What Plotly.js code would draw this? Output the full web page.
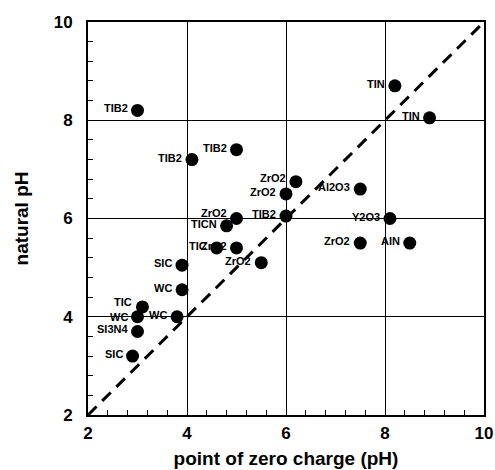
<!DOCTYPE html>
<html>
<head>
<meta charset="utf-8">
<script src="https://cdn.plot.ly/plotly-3.0.1.min.js"></script>
<style>html,body{margin:0;padding:0;background:#fff}#chart{width:495px;height:470px}</style>
</head>
<body>
<div id="chart"></div>
<script>
// Data
const materials = ["TIB2","TIB2","TIB2","ZrO2","ZrO2","Al2O3","TIN","TIN","ZrO2","TICN","TIB2","Y2O3","TIC","ZrO2","ZrO2","ZrO2","AIN","SIC","WC","TIC","WC","WC","SI3N4","SIC"];
const pzc =        [3.0, 4.1, 5.0, 6.2, 6.0, 7.5, 8.2, 8.9, 5.0, 4.8, 6.0, 8.1, 4.6, 5.0, 5.5, 7.5, 8.5, 3.9, 3.9, 3.1, 3.0, 3.8, 3.0, 2.9];
const naturalPH =  [8.2, 7.2, 7.4, 6.75,6.5, 6.6, 8.7, 8.05,6.0, 5.85,6.05,6.0, 5.4, 5.4, 5.1, 5.5, 5.5, 5.05,4.55,4.2, 4.0, 4.0, 3.7, 3.2];
const diagonal = [2, 10];
const tickVals = [2, 4, 6, 8, 10];
const tickText = ["2", "4", "6", "8", "10"];

// label nudges in pixels (style, not data)
const liftOverrides = {3: 4, 8: 6, 19: 5, 20: 0};
const labelLift = materials.map((m, i) => (i in liftOverrides) ? liftOverrides[i] : 2);

const fontFam = '"Liberation Sans", Arial, sans-serif';

const traces = [
  {
    x: diagonal, y: diagonal, mode: 'lines', type: 'scatter',
    line: {color: '#000', width: 3, dash: '12px,8px'},
    hoverinfo: 'skip', showlegend: false
  },
  {
    x: pzc, y: naturalPH, mode: 'markers', type: 'scatter',
    marker: {size: 13, color: '#000'},
    showlegend: false, cliponaxis: false
  }
];

const annotations = materials.map((m, i) => ({
  x: pzc[i], y: naturalPH[i], xref: 'x', yref: 'y', text: m,
  showarrow: false, xanchor: 'right', yanchor: 'middle',
  xshift: -8, yshift: labelLift[i],
  font: {family: fontFam, size: 11, color: '#000', weight: 'bold'}
}));

const axisCommon = {
  range: [2, 10], tickvals: tickVals, ticktext: tickText,
  showgrid: true, gridcolor: '#000', gridwidth: 1,
  zeroline: false, showline: true, linecolor: '#000', linewidth: 2, mirror: true,
  ticks: 'inside', ticklen: 5, tickcolor: '#000', tickwidth: 1,
  minor: {dtick: 0.4, ticks: 'inside', ticklen: 5, tickcolor: '#000', tickwidth: 1, showgrid: false},
  tickfont: {family: fontFam, size: 17, color: '#000', weight: 'bold'},
  automargin: false
};

const layout = {
  width: 495, height: 470,
  margin: {l: 88, r: 11, t: 22, b: 55},
  paper_bgcolor: '#fff', plot_bgcolor: '#fff',
  annotations: annotations,
  xaxis: Object.assign({}, axisCommon, {
    ticklabelstandoff: 2,
    title: {text: 'point of zero charge (pH)', font: {family: fontFam, size: 19, color: '#000', weight: 'bold'}, standoff: 9}
  }),
  yaxis: Object.assign({}, axisCommon, {
    ticklabelstandoff: 10,
    title: {text: 'natural pH', font: {family: fontFam, size: 19, color: '#000', weight: 'bold'}, standoff: 20}
  }),
  showlegend: false
};

Plotly.newPlot('chart', traces, layout, {staticPlot: true, displayModeBar: false});
</script>
</body>
</html>
